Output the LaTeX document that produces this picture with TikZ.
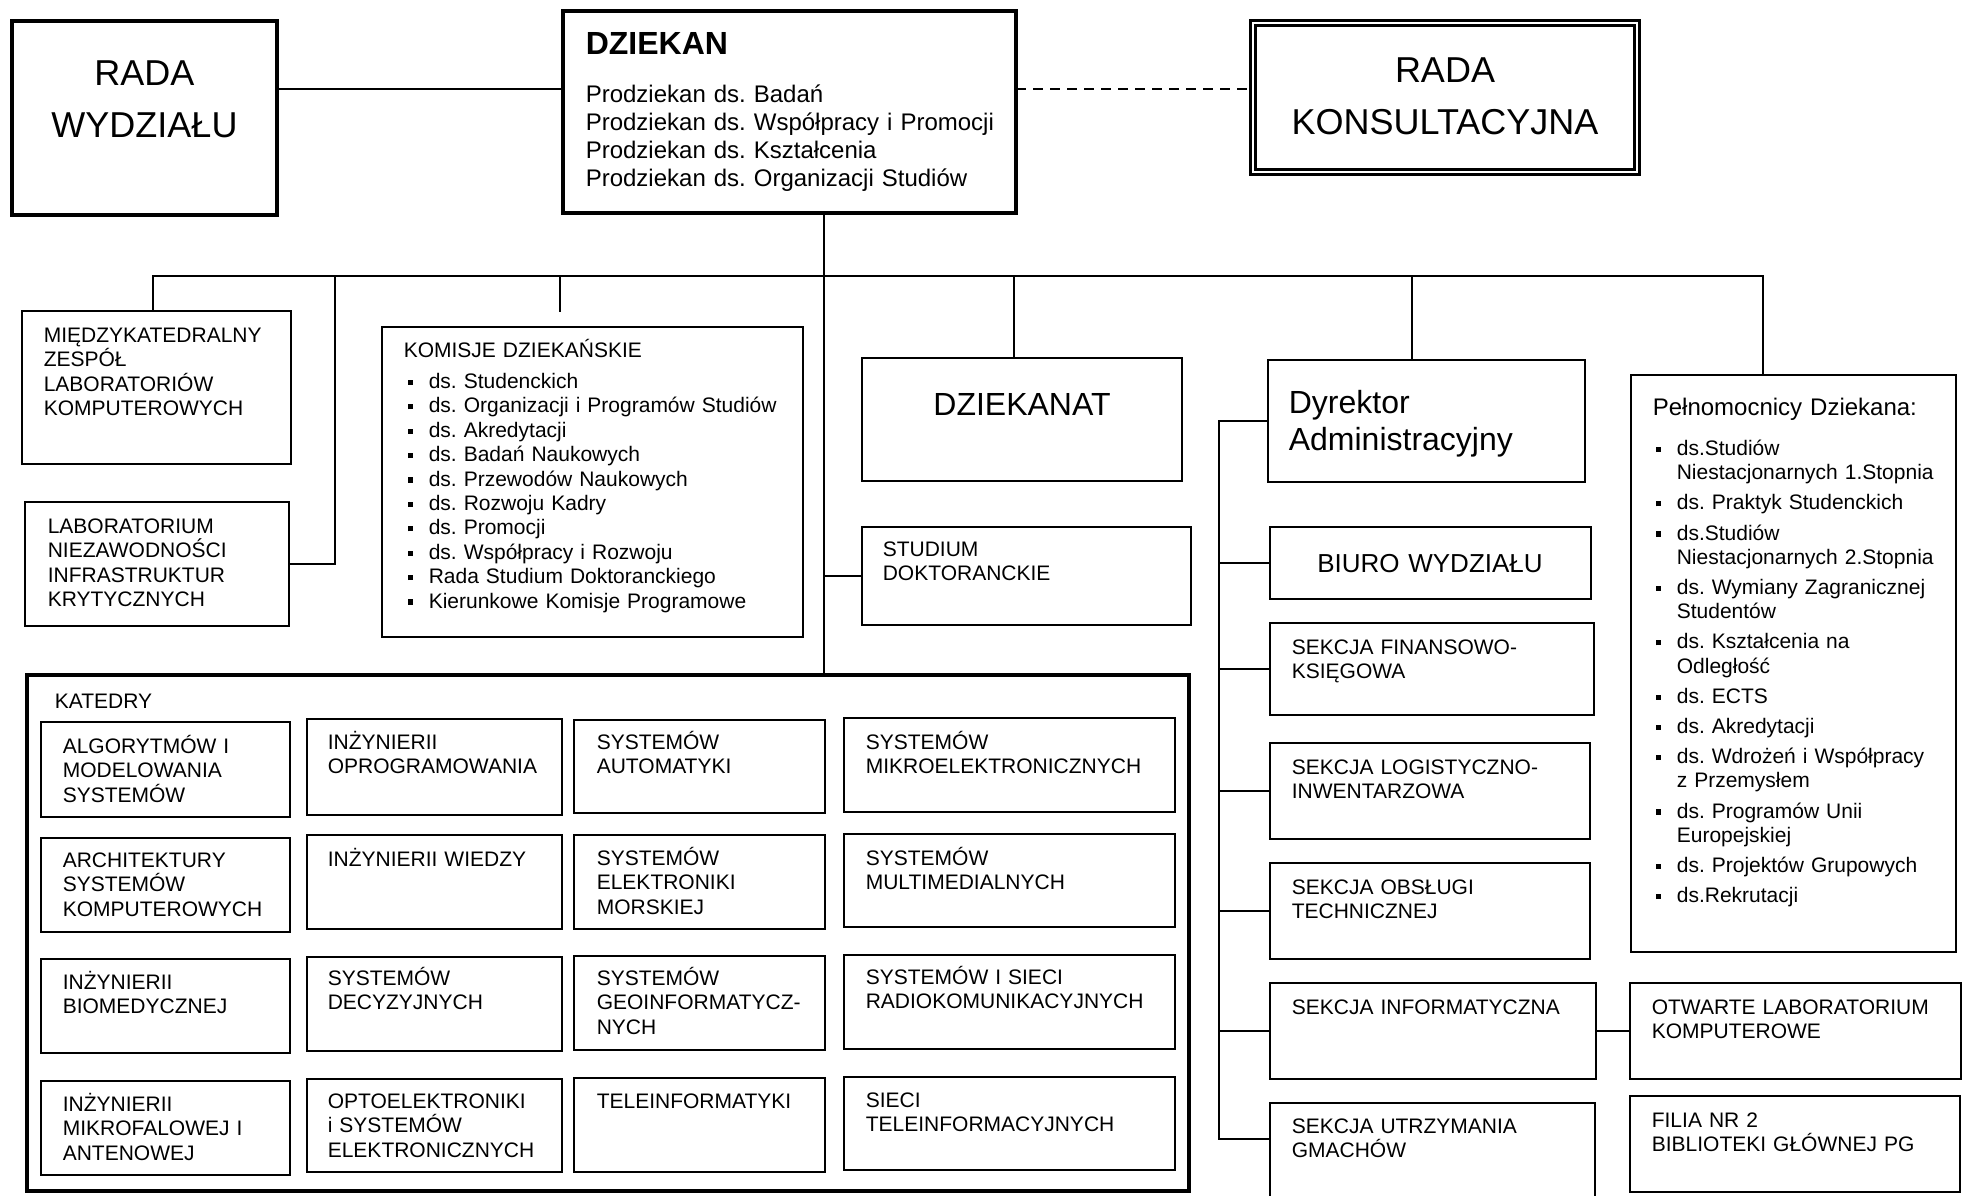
\documentclass[tikz,border=0pt]{standalone}
\usepackage{fontspec}
\setmainfont{Liberation Sans}
\usetikzlibrary{fit}
\frenchspacing
\newcommand{\bul}{\leavevmode\llap{\rule[1.8pt]{2.6pt}{2.6pt}\hspace{7.9pt}}}
\tikzset{
  box/.style = {rectangle, draw=black, line width=1.1pt, inner sep=0pt,
    outer sep=0pt},% ramka zwykla
  box_b/.style = {box, line width=2.4pt},% ramka gruba
  box_d/.style = {box, line width=1.3pt, double, double distance=1.2pt},% ramka podwojna
  txt/.style = {anchor=base west, inner sep=0pt, align=left, text width=150pt,
    font=\fontsize{10.5}{12.2}\selectfont},% opis w ramce
  txt_c/.style = {anchor=base, inner sep=0pt, align=center, text width=130pt,
    font=\fontsize{10.5}{12.2}\selectfont}% opis wysrodkowany
}
\begin{document}
\begin{tikzpicture}[x=0.5pt, y=-0.5pt, line width=0.8pt]
\useasboundingbox (0,0) rectangle (1964,1195);
% gora
\node [box_b, fit={(12,21) (277,215)}] (rw) {};
\node [txt_c, font=\fontsize{18}{26}\selectfont] (rw_t) at (144.5,85.5) {RADA\\WYDZIAŁU};
\node [box_b, fit={(563,11) (1016,213)}] (dziekan) {};
\node [txt, font=\fontsize{16}{18}\selectfont\bfseries] (dziekan_t) at (585,54.5) {DZIEKAN};
\node [txt, text width=210pt, font=\fontsize{12}{14}\selectfont] (prodziekani) at (585,102)
  {Prodziekan ds. Badań\\Prodziekan ds. Współpracy i Promocji\\Prodziekan ds. Kształcenia\\Prodziekan ds. Organizacji Studiów};
\node [box_d, fit={(1253,23) (1637,172)}] (rk) {};
\node [txt_c, text width=170pt, font=\fontsize{18}{26}\selectfont] (rk_t) at (1445,82.5) {RADA\\KONSULTACYJNA};
% srodek
\node [box, fit={(22,311) (291,464)}] (mzlk) {};
\node [txt] (mzlk_t) at (43,342.5) {MIĘDZYKATEDRALNY\\ZESPÓŁ\\LABORATORIÓW\\KOMPUTEROWYCH};
\node [box, fit={(25,502) (289,626)}] (lnik) {};
\node [txt] (lnik_t) at (47,533.5) {LABORATORIUM\\NIEZAWODNOŚCI\\INFRASTRUKTUR\\KRYTYCZNYCH};
\node [box, fit={(382,327) (803,637)}] (komisje) {};
\node [txt] (komisje_t) at (403,357.5) {KOMISJE DZIEKAŃSKIE};
\node [txt, text width=185pt] (komisje_l) at (428,388.5)
  {\bul ds. Studenckich\\\bul ds. Organizacji i Programów Studiów\\\bul ds. Akredytacji\\\bul ds. Badań Naukowych\\\bul ds. Przewodów Naukowych\\\bul ds. Rozwoju Kadry\\\bul ds. Promocji\\\bul ds. Współpracy i Rozwoju\\\bul Rada Studium Doktoranckiego\\\bul Kierunkowe Komisje Programowe};
\node [box, fit={(862,358) (1182,481)}] (dziekanat) {};
\node [txt_c, font=\fontsize{16}{18}\selectfont] (dziekanat_t) at (1022,415.5) {DZIEKANAT};
\node [box, fit={(862,527) (1191,625)}] (studium) {};
\node [txt] (studium_t) at (882,556.5) {STUDIUM\\DOKTORANCKIE};
\node [box, fit={(1268,360) (1585,482)}] (dyrektor) {};
\node [txt, text width=140pt, font=\fontsize{16}{18.5}\selectfont] (dyrektor_t) at (1288,413) {Dyrektor\\Administracyjny};
\node [box, fit={(1270,527) (1591,599)}] (biuro) {};
\node [txt_c, font=\fontsize{13}{15}\selectfont] (biuro_t) at (1430,572) {BIURO WYDZIAŁU};
\node [box, fit={(1270,623) (1594,715)}] (s_fin) {};
\node [txt] (s_fin_t) at (1291,654.5) {SEKCJA FINANSOWO-\\KSIĘGOWA};
\node [box, fit={(1270,743) (1590,839)}] (s_log) {};
\node [txt] (s_log_t) at (1291,774.5) {SEKCJA LOGISTYCZNO-\\INWENTARZOWA};
\node [box, fit={(1270,863) (1590,959)}] (s_obs) {};
\node [txt] (s_obs_t) at (1291,894.5) {SEKCJA OBSŁUGI\\TECHNICZNEJ};
\node [box, fit={(1270,983) (1596,1079)}] (s_inf) {};
\node [txt] (s_inf_t) at (1291,1014.5) {SEKCJA INFORMATYCZNA};
\node [box, fit={(1270,1103) (1595,1215)}] (s_utr) {};
\node [txt] (s_utr_t) at (1291,1133.5) {SEKCJA UTRZYMANIA\\GMACHÓW};
\node [box, fit={(1631,375) (1956,952)}] (peln) {};
\node [txt, font=\fontsize{12}{14}\selectfont] (peln_t) at (1652,415.5) {Pełnomocnicy Dziekana:};
\node [txt, text width=140pt, font=\fontsize{10.5}{12.1}\selectfont] (peln_l) at (1676,455.5)
  {\bul ds.Studiów\\Niestacjonarnych 1.Stopnia\\[3pt]\bul ds. Praktyk Studenckich\\[3pt]\bul ds.Studiów\\Niestacjonarnych 2.Stopnia\\[3pt]\bul ds. Wymiany Zagranicznej\\Studentów\\[3pt]\bul ds. Kształcenia na\\Odległość\\[3pt]\bul ds. ECTS\\[3pt]\bul ds. Akredytacji\\[3pt]\bul ds. Wdrożeń i Współpracy\\z Przemysłem\\[3pt]\bul ds. Programów Unii\\Europejskiej\\[3pt]\bul ds. Projektów Grupowych\\[3pt]\bul ds.Rekrutacji};
\node [box, fit={(1630,983) (1961,1079)}] (otwarte) {};
\node [txt] (otwarte_t) at (1651,1014.5) {OTWARTE LABORATORIUM\\KOMPUTEROWE};
\node [box, fit={(1630,1096) (1960,1192)}] (filia) {};
\node [txt] (filia_t) at (1651,1127.5) {FILIA NR 2\\BIBLIOTEKI GŁÓWNEJ PG};
% katedry
\node [box_b, fit={(27,675) (1189,1191)}] (katedry) {};
\node [txt] (katedry_t) at (54,708.5) {KATEDRY};
\node [box, fit={(41,722) (290,817)}] (k11) {};
\node [txt] (k11_t) at (62,753.5) {ALGORYTMÓW I\\MODELOWANIA\\SYSTEMÓW};
\node [box, fit={(307,719) (562,815)}] (k12) {};
\node [txt] (k12_t) at (327,749.5) {INŻYNIERII\\OPROGRAMOWANIA};
\node [box, fit={(574,720) (825,813)}] (k13) {};
\node [txt] (k13_t) at (596,749.5) {SYSTEMÓW\\AUTOMATYKI};
\node [box, fit={(844,718) (1175,812)}] (k14) {};
\node [txt] (k14_t) at (865,749.5) {SYSTEMÓW\\MIKROELEKTRONICZNYCH};
\node [box, fit={(41,838) (290,932)}] (k21) {};
\node [txt] (k21_t) at (62,867.5) {ARCHITEKTURY\\SYSTEMÓW\\KOMPUTEROWYCH};
\node [box, fit={(307,835) (562,929)}] (k22) {};
\node [txt] (k22_t) at (327,866.5) {INŻYNIERII WIEDZY};
\node [box, fit={(574,835) (825,929)}] (k23) {};
\node [txt] (k23_t) at (596,865.5) {SYSTEMÓW\\ELEKTRONIKI\\MORSKIEJ};
\node [box, fit={(844,834) (1175,927)}] (k24) {};
\node [txt] (k24_t) at (865,865.5) {SYSTEMÓW\\MULTIMEDIALNYCH};
\node [box, fit={(41,959) (290,1053)}] (k31) {};
\node [txt] (k31_t) at (62,989.5) {INŻYNIERII\\BIOMEDYCZNEJ};
\node [box, fit={(307,957) (562,1051)}] (k32) {};
\node [txt] (k32_t) at (327,985.5) {SYSTEMÓW\\DECYZYJNYCH};
\node [box, fit={(574,956) (825,1050)}] (k33) {};
\node [txt] (k33_t) at (596,985.5) {SYSTEMÓW\\GEOINFORMATYCZ-\\NYCH};
\node [box, fit={(844,955) (1175,1049)}] (k34) {};
\node [txt] (k34_t) at (865,984.5) {SYSTEMÓW I SIECI\\RADIOKOMUNIKACYJNYCH};
\node [box, fit={(41,1081) (290,1175)}] (k41) {};
\node [txt] (k41_t) at (62,1111.5) {INŻYNIERII\\MIKROFALOWEJ I\\ANTENOWEJ};
\node [box, fit={(307,1079) (562,1172)}] (k42) {};
\node [txt] (k42_t) at (327,1108.5) {OPTOELEKTRONIKI\\i SYSTEMÓW\\ELEKTRONICZNYCH};
\node [box, fit={(574,1078) (825,1172)}] (k43) {};
\node [txt] (k43_t) at (596,1108.5) {TELEINFORMATYKI};
\node [box, fit={(844,1077) (1175,1170)}] (k44) {};
\node [txt] (k44_t) at (865,1107.5) {SIECI\\TELEINFORMACYJNYCH};
% polaczenia
\coordinate (lvl) at (0,89);
\coordinate (axis) at (824,276);
\coordinate (b_mzlk) at (153,276);
\coordinate (b_lnik) at (335,276);
\coordinate (b_kom) at (560,276);
\coordinate (b_dk) at (1014,276);
\coordinate (b_dy) at (1412,276);
\coordinate (b_peln) at (1763,276);
\coordinate (adm) at (1219,1139);
\draw (rw.east |- lvl) -- (dziekan.west |- lvl);
\draw [dash pattern=on 5pt off 3.5pt] (dziekan.east |- lvl) -- (rk.west |- lvl);
\draw (dziekan.south -| axis) -- (katedry.north -| axis);
\draw (b_mzlk |- mzlk.north) -- (b_mzlk) -- (b_peln) -- (b_peln |- peln.north);
\draw (b_lnik) |- (lnik.east);
\draw [shorten >=7.5pt] (b_kom) -- (b_kom |- komisje.north);
\draw (b_dk) -- (b_dk |- dziekanat.north);
\draw (b_dy) -- (b_dy |- dyrektor.north);
\draw (studium.west -| axis) -- (studium.west);
\draw (dyrektor.west) -| (adm) -- (adm -| s_utr.west);
\draw (adm |- biuro.west) -- (biuro.west);
\draw (adm |- s_fin.west) -- (s_fin.west);
\draw (adm |- s_log.west) -- (s_log.west);
\draw (adm |- s_obs.west) -- (s_obs.west);
\draw (adm |- s_inf.west) -- (s_inf.west);
\draw (s_inf.east) -- (otwarte.west);
\end{tikzpicture}
\end{document}
